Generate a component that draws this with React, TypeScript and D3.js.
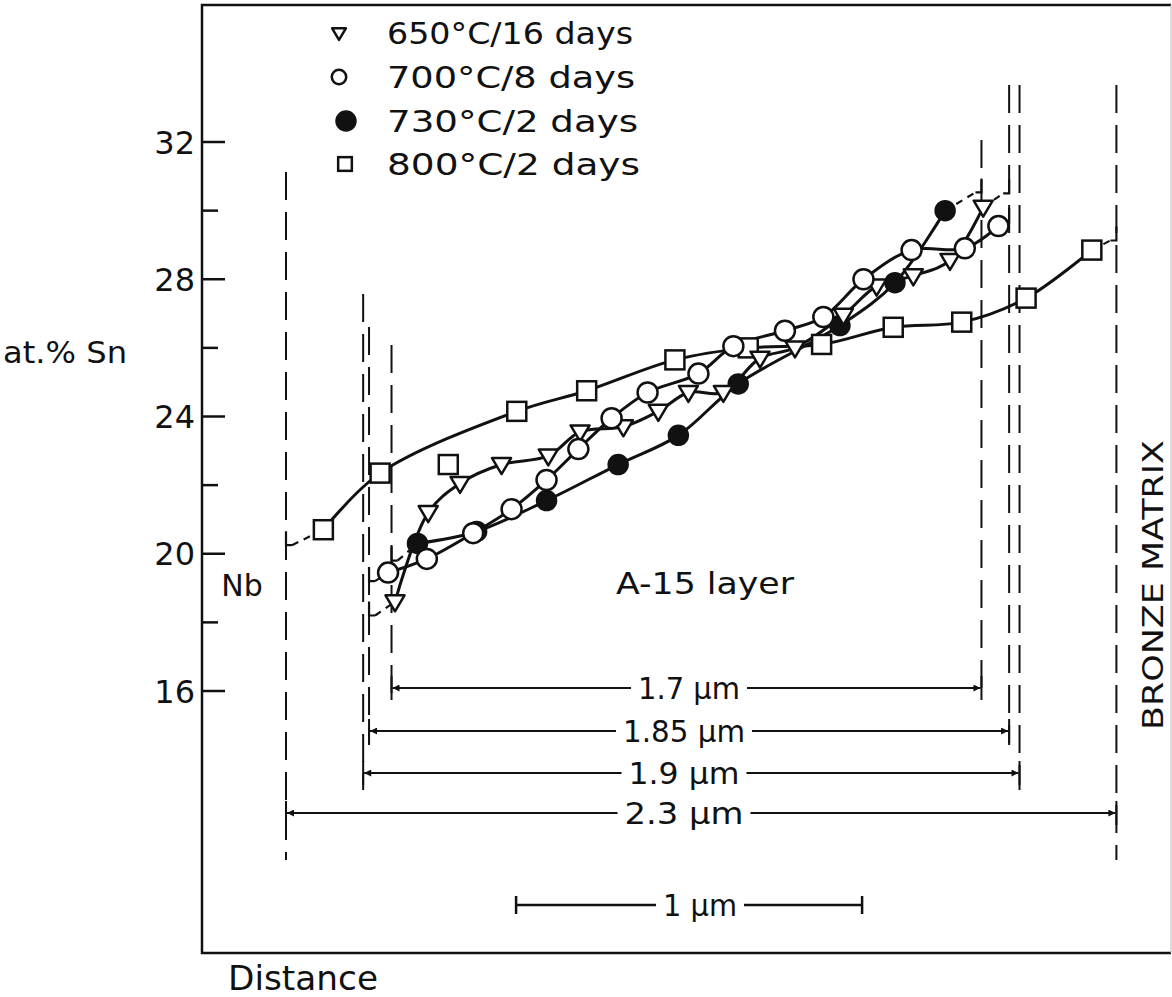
import * as d3 from "d3";
import React from "react";

// legend / series
const legendLabels = ["650°C/16 days", "700°C/8 days", "730°C/2 days", "800°C/2 days"];

// distance (µm from Nb side) and at.% Sn
const dist650 = [0.315, 0.411, 0.503, 0.623, 0.758, 0.85, 0.975, 1.076, 1.163, 1.264, 1.37, 1.471, 1.611, 1.707, 1.813, 1.919, 2.015];
const sn650 = [18.6, 21.2, 22.05, 22.6, 22.85, 23.55, 23.7, 24.15, 24.7, 24.7, 25.7, 26.0, 26.95, 27.8, 28.1, 28.55, 30.1];

const dist700 = [0.295, 0.407, 0.541, 0.652, 0.753, 0.845, 0.941, 1.045, 1.192, 1.293, 1.442, 1.553, 1.669, 1.808, 1.962, 2.059];
const sn700 = [19.45, 19.85, 20.6, 21.3, 22.15, 23.05, 23.95, 24.7, 25.25, 26.05, 26.5, 26.9, 28.0, 28.85, 28.9, 29.55];

const dist730 = [0.38, 0.551, 0.753, 0.96, 1.134, 1.307, 1.601, 1.76, 1.905];
const sn730 = [20.3, 20.65, 21.55, 22.6, 23.45, 24.95, 26.65, 27.9, 30.0];

const dist800 = [0.108, 0.272, 0.469, 0.667, 0.869, 1.124, 1.336, 1.548, 1.755, 1.953, 2.139, 2.329];
const sn800 = [20.7, 22.35, 22.6, 24.15, 24.75, 25.65, 26.0, 26.1, 26.6, 26.75, 27.45, 28.85];
const off800 = [2]; // scattered point not on the drawn curve

// dashed extrapolation to the interfaces [dist, at.% Sn]
const leftEdge = [[0.24, 18.2], [0.24, 19.2], [0.305, 19.8], [0, 20.25]];
const rightEdge = [[2.09, 30.5], [2.09, 29.66], [2.01, 30.53], [2.4, 29.13]];

// layer thickness markers
const layerLabels = ["1.7 μm", "1.85 μm", "1.9 μm", "2.3 μm"];
const layerStart = [0.305, 0.24, 0.223, 0];
const layerEnd = [2.01, 2.09, 2.12, 2.4];

const yTicks = [16, 20, 24, 28, 32];
const yMinor = [18, 22, 26, 30];
const scaleBar = [0.665, 1.665];

const FONT = "DejaVu Sans";

const App = () => {
  const W = 1172;
  const H = 997;
  const frame = { left: 202, top: 5, right: 1171, bottom: 953 };

  const x = d3.scaleLinear().domain([0, 1]).range([286, 632]);
  const y = d3.scaleLinear().domain([16, 32]).range([691, 142]);

  const line = d3
    .line<number[]>()
    .x((d) => x(d[0]))
    .y((d) => y(d[1]))
    .curve(d3.curveCatmullRom.alpha(0.5));

  const zip = (a: number[], b: number[]) => a.map((v, i) => [v, b[i]]);
  const series = [
    { pts: zip(dist650, sn650), shape: "tri" },
    { pts: zip(dist700, sn700), shape: "open" },
    { pts: zip(dist730, sn730), shape: "filled" },
    { pts: zip(dist800, sn800), shape: "square" },
  ];

  const marker = (shape: string, cx: number, cy: number, s: number, key: any) => {
    if (shape === "tri")
      return (
        <path key={key} d={`M${cx - 9.5 * s},${cy - 6.5 * s}L${cx + 9.5 * s},${cy - 6.5 * s}L${cx},${cy + 9.5 * s}Z`}
          fill="#fff" stroke="#111" strokeWidth={2.5} strokeLinejoin="round" />
      );
    if (shape === "open")
      return <circle key={key} cx={cx} cy={cy} r={10 * s} fill="#fff" stroke="#111" strokeWidth={2.5} />;
    if (shape === "filled")
      return <circle key={key} cx={cx} cy={cy} r={10 * s} fill="#111" stroke="#111" strokeWidth={1.5} />;
    return (
      <rect key={key} x={cx - 9.5 * s} y={cy - 9.5 * s} width={19 * s} height={19 * s}
        fill="#fff" stroke="#111" strokeWidth={2.5} />
    );
  };

  // layout of the thickness arrows
  const arrowY = [688, 731, 773, 813];
  const leftTop = [345, 327, 294, 172];
  const rightTop = [140, 85, 85, 85];
  const lineBottom = [700, 745, 790, 860];
  const labelCx = [689, 684, 684, 684];
  const labelW = [102, 122, 111, 119];

  const legendY = [33, 77, 121, 164];
  const legendX = [339, 339, 346, 345];
  const legendW = [246, 248, 251, 253];

  return (
    <svg width={W} height={H} style={{ position: "absolute", left: 0, top: 0, background: "#fff" }}
      fontFamily={FONT} fill="#111">
      <defs>
        <marker id="ah" viewBox="0 0 10 10" refX="10" refY="5" markerWidth="11" markerHeight="7"
          orient="auto-start-reverse" markerUnits="userSpaceOnUse">
          <path d="M0,0L10,5L0,10Z" fill="#111" />
        </marker>
      </defs>

      {/* frame */}
      <path d={`M${frame.right},${frame.top}H${frame.left}V${frame.bottom}H${frame.right}`}
        fill="none" stroke="#111" strokeWidth={2.5} />
      <line x1={frame.right} x2={frame.right} y1={frame.top} y2={frame.bottom} stroke="#bbb" strokeWidth={1} />

      {/* y axis ticks */}
      {yTicks.map((t) => (
        <g key={t}>
          <line x1={frame.left} x2={frame.left + 23} y1={y(t)} y2={y(t)} stroke="#111" strokeWidth={2.5} />
          <text x={195} y={y(t)} dy="0.36em" textAnchor="end" fontSize={32}>{t}</text>
        </g>
      ))}
      {yMinor.map((t) => (
        <line key={t} x1={frame.left} x2={frame.left + 16} y1={y(t)} y2={y(t)} stroke="#111" strokeWidth={2.5} />
      ))}
      <text x={3} y={352} dy="0.36em" fontSize={30} textLength={124} lengthAdjust="spacingAndGlyphs">at.% Sn</text>

      {/* interface lines */}
      {layerStart.map((s, i) => (
        <g key={i} stroke="#111" strokeWidth={2} strokeDasharray="28 12" fill="none">
          <line x1={x(s)} x2={x(s)} y1={leftTop[i]} y2={lineBottom[i]} />
          <line x1={x(layerEnd[i])} x2={x(layerEnd[i])} y1={rightTop[i]} y2={lineBottom[i]} />
        </g>
      ))}

      {/* thickness arrows */}
      {layerLabels.map((lab, i) => (
        <g key={lab}>
          <line x1={x(layerStart[i]) + 1} x2={x(layerEnd[i]) - 1} y1={arrowY[i]} y2={arrowY[i]}
            stroke="#111" strokeWidth={2} markerStart="url(#ah)" markerEnd="url(#ah)" />
          <line x1={x(layerStart[i])} x2={x(layerStart[i])} y1={arrowY[i] - 12} y2={arrowY[i] + 12} stroke="#111" strokeWidth={2} />
          <line x1={x(layerEnd[i])} x2={x(layerEnd[i])} y1={arrowY[i] - 12} y2={arrowY[i] + 12} stroke="#111" strokeWidth={2} />
          <rect x={labelCx[i] - labelW[i] / 2 - 7} y={arrowY[i] - 8} width={labelW[i] + 14} height={16} fill="#fff" />
          <text x={labelCx[i] - labelW[i] / 2} y={arrowY[i]} dy="0.36em" fontSize={31}
            textLength={labelW[i]} lengthAdjust="spacingAndGlyphs">{lab}</text>
        </g>
      ))}

      {/* dashed extrapolation to interfaces */}
      {series.map((s, i) => {
        const first = s.pts[0];
        const last = s.pts[s.pts.length - 1];
        const le = leftEdge[i];
        const re = rightEdge[i];
        return (
          <g key={i} stroke="#111" fill="none" strokeWidth={2.2}>
            <line x1={x(le[0]) + 6} y1={y(le[1])} x2={x(first[0])} y2={y(first[1])} strokeDasharray="7 6" />
            <path d={`M${x(le[0])},${y(le[1]) - 14}V${y(le[1])}H${x(le[0]) + 6}`} />
            <line x1={x(last[0])} y1={y(last[1])} x2={x(re[0]) - 6} y2={y(re[1])} strokeDasharray="7 6" />
            <path d={`M${x(re[0])},${y(re[1]) - 14}V${y(re[1])}H${x(re[0]) - 6}`} />
          </g>
        );
      })}

      {/* curves */}
      {series.map((s, i) => (
        <path key={i} d={line(i === 3 ? s.pts.filter((_, j) => !off800.includes(j)) : s.pts) || ""}
          fill="none" stroke="#111" strokeWidth={3} />
      ))}

      {/* markers */}
      {[3, 2, 0, 1].map((i) =>
        series[i].pts.map((p, j) => marker(series[i].shape, x(p[0]), y(p[1]), 1, `${i}-${j}`))
      )}

      {/* legend */}
      {legendLabels.map((lab, i) => (
        <g key={lab}>
          {marker(series[i].shape, legendX[i], legendY[i], i === 2 ? 1.0 : 0.72, "lg" + i)}
          <text x={387} y={legendY[i]} dy="0.36em" fontSize={30} textLength={legendW[i]}
            lengthAdjust="spacingAndGlyphs">{lab}</text>
        </g>
      ))}

      {/* region labels */}
      <text x={242} y={585} dy="0.36em" textAnchor="middle" fontSize={30}>Nb</text>
      <text x={616} y={583} dy="0.36em" fontSize={31} textLength={178} lengthAdjust="spacingAndGlyphs">A-15 layer</text>
      <text transform="translate(1153,585) rotate(-90)" dy="0.36em" textAnchor="middle" fontSize={29}
        textLength={290} lengthAdjust="spacingAndGlyphs">BRONZE MATRIX</text>

      {/* scale bar */}
      <g stroke="#111" strokeWidth={2.5}>
        <line x1={x(scaleBar[0])} x2={x(scaleBar[1])} y1={905} y2={905} />
        <line x1={x(scaleBar[0])} x2={x(scaleBar[0])} y1={896} y2={914} />
        <line x1={x(scaleBar[1])} x2={x(scaleBar[1])} y1={896} y2={914} />
      </g>
      <rect x={656} y={897} width={88} height={16} fill="#fff" />
      <text x={700} y={905} dy="0.36em" textAnchor="middle" fontSize={30}
        textLength={74} lengthAdjust="spacingAndGlyphs">1 μm</text>

      <text x={228} y={990} fontSize={34} textLength={150} lengthAdjust="spacingAndGlyphs">Distance</text>
    </svg>
  );
};

export default App;
